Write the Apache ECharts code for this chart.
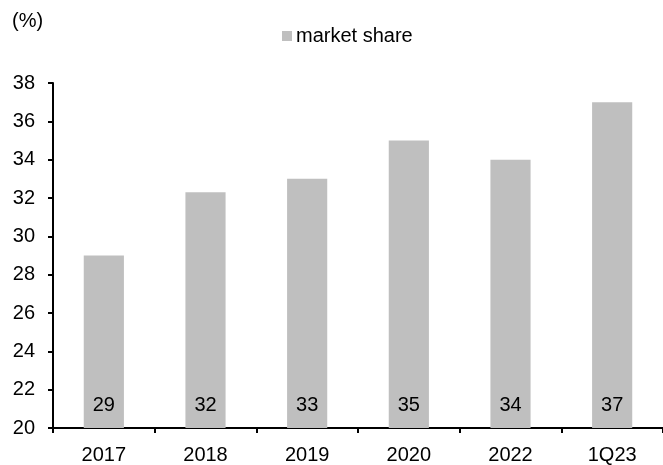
<!DOCTYPE html>
<html>
<head>
<meta charset="utf-8">
<script src="https://cdn.jsdelivr.net/npm/echarts@6/dist/echarts.min.js"></script>
<style>
  html, body { margin: 0; padding: 0; background: #fff; }
  #chart { width: 663px; height: 465px; }
</style>
</head>
<body>
<div id="chart"></div>
<script>
// Market share by period (%)
const categories = ['2017', '2018', '2019', '2020', '2022', '1Q23'];
const marketShare = [29, 32.3, 33, 35, 34, 37];
const seriesName = 'market share';
const unitLabel = '(%)';

const FONT = 'Liberation Sans, Arial, sans-serif';

const chart = echarts.init(document.getElementById('chart'), null, { renderer: 'canvas' });

chart.setOption({
  animation: false,
  backgroundColor: '#ffffff',
  textStyle: { fontFamily: FONT, color: '#000' },
  graphic: [{
    type: 'text',
    left: 12,
    top: 11,
    style: { text: unitLabel, fontSize: 20, fontFamily: FONT, fill: '#000' }
  }],
  legend: {
    data: [seriesName],
    left: 282,
    top: 26,
    padding: 0,
    itemWidth: 10,
    itemHeight: 10,
    itemGap: 10,
    icon: 'rect',
    textStyle: { fontSize: 20, fontFamily: FONT, color: '#000', padding: [0, 0, 0, -1] }
  },
  grid: { left: 53, right: 0, top: 83, bottom: 37, containLabel: false },
  xAxis: {
    type: 'category',
    data: categories,
    boundaryGap: true,
    axisLine: { show: true, lineStyle: { color: '#000', width: 2 } },
    axisTick: { show: true, alignWithLabel: false, length: 5, lineStyle: { color: '#000', width: 2 } },
    axisLabel: { margin: 17, fontSize: 20, fontFamily: FONT, color: '#000' },
    splitLine: { show: false }
  },
  yAxis: {
    type: 'value',
    min: 20,
    max: 38,
    interval: 2,
    axisLine: { show: true, lineStyle: { color: '#000', width: 2 } },
    axisTick: { show: true, length: 5, lineStyle: { color: '#000', width: 2 } },
    axisLabel: { margin: 18, fontSize: 20, fontFamily: FONT, color: '#000' },
    splitLine: { show: false }
  },
  series: [{
    name: seriesName,
    type: 'bar',
    data: marketShare,
    barWidth: '39.5%',
    itemStyle: { color: '#bfbfbf' },
    label: {
      show: true,
      position: 'insideBottom',
      distance: 13,
      fontSize: 20,
      fontFamily: FONT,
      color: '#000',
      formatter: p => Math.round(p.value).toString()
    }
  }]
});
</script>
</body>
</html>
